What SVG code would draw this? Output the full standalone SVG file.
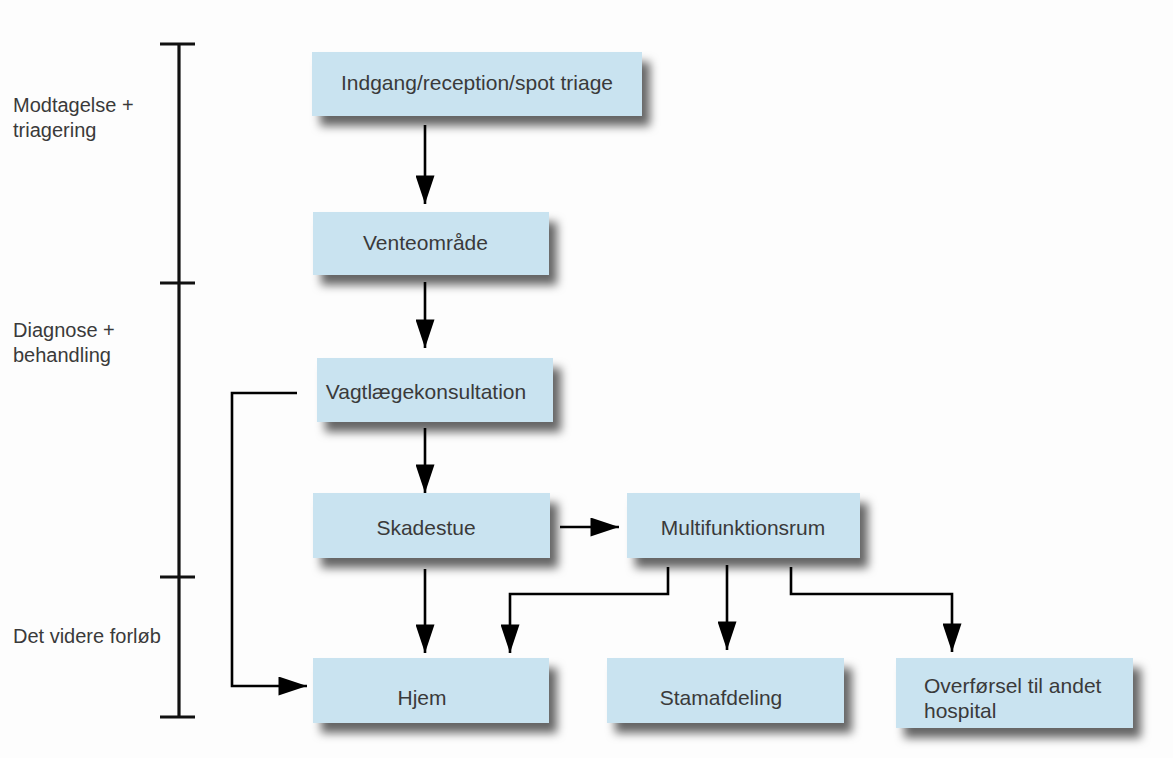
<svg xmlns="http://www.w3.org/2000/svg" width="1173" height="758" viewBox="0 0 1173 758">
<defs>
<style>
.box{fill:#c9e3f0;filter:url(#sh)}
.t{font-family:"Liberation Sans",Arial,sans-serif;font-size:21px;fill:#3a3a3a}
.l{font-family:"Liberation Sans",Arial,sans-serif;font-size:20px;fill:#3a3a3a}
.c{fill:none;stroke:#000;stroke-width:2.6}
.b{fill:none;stroke:#111;stroke-width:3.2}
</style>
<filter id="sh" x="-10%" y="-20%" width="130%" height="170%">
<feDropShadow dx="8" dy="10" stdDeviation="5" flood-color="#000" flood-opacity="0.6"/>
</filter>
<marker id="ah" viewBox="0 0 30 20" refX="30" refY="10" markerWidth="30" markerHeight="19" markerUnits="userSpaceOnUse" orient="auto">
<path d="M0,0 L30,10 L0,20 Z" fill="#000"/>
</marker>
</defs>
<rect width="1173" height="758" fill="#fdfdfd"/>
<g id="bracket">
<line class="b" x1="179" y1="44" x2="179" y2="717"/>
<line class="b" x1="160" y1="44" x2="195" y2="44"/>
<line class="b" x1="160" y1="283" x2="195" y2="283"/>
<line class="b" x1="160" y1="577" x2="195" y2="577"/>
<line class="b" x1="160" y1="717" x2="195" y2="717"/>
</g>
<g id="labels">
<text class="l" x="13" y="112">Modtagelse +</text>
<text class="l" x="13" y="137">triagering</text>
<text class="l" x="13" y="337">Diagnose +</text>
<text class="l" x="13" y="362">behandling</text>
<text class="l" x="13" y="643">Det videre forløb</text>
</g>
<g id="connectors">
<line class="c" x1="425" y1="125" x2="425" y2="204" marker-end="url(#ah)"/>
<line class="c" x1="425" y1="282" x2="425" y2="348" marker-end="url(#ah)"/>
<line class="c" x1="425" y1="428" x2="425" y2="493" marker-end="url(#ah)"/>
<line class="c" x1="560" y1="527" x2="619" y2="527" marker-end="url(#ah)"/>
<line class="c" x1="425" y1="569" x2="425" y2="653" marker-end="url(#ah)"/>
<polyline class="c" points="668,567 668,594 510,594 510,653" marker-end="url(#ah)"/>
<line class="c" x1="727" y1="565" x2="727" y2="650" marker-end="url(#ah)"/>
<polyline class="c" points="791,567 791,594 952,594 952,652" marker-end="url(#ah)"/>
<polyline class="c" points="297,393 232,393 232,686 307,686" marker-end="url(#ah)"/>
</g>
<g id="n1"><rect class="box" x="312" y="52" width="330" height="64"/><text class="t" x="477" y="90" text-anchor="middle">Indgang/reception/spot triage</text></g>
<g id="n2"><rect class="box" x="313" y="212" width="236" height="63"/><text class="t" x="363" y="250">Venteområde</text></g>
<g id="n3"><rect class="box" x="317" y="358" width="236" height="64"/><text class="t" x="426" y="399" text-anchor="middle">Vagtlægekonsultation</text></g>
<g id="n4"><rect class="box" x="313" y="493" width="237" height="65"/><text class="t" x="426" y="535" text-anchor="middle">Skadestue</text></g>
<g id="n5"><rect class="box" x="627" y="493" width="233" height="65"/><text class="t" x="743" y="535" text-anchor="middle">Multifunktionsrum</text></g>
<g id="n6"><rect class="box" x="313" y="658" width="236" height="65"/><text class="t" x="422" y="705" text-anchor="middle">Hjem</text></g>
<g id="n7"><rect class="box" x="607" y="658" width="237" height="65"/><text class="t" x="721" y="705" text-anchor="middle">Stamafdeling</text></g>
<g id="n8"><rect class="box" x="896" y="658" width="237" height="70"/><text class="t" x="924" y="693">Overførsel til andet</text><text class="t" x="924" y="718">hospital</text></g>
</svg>
